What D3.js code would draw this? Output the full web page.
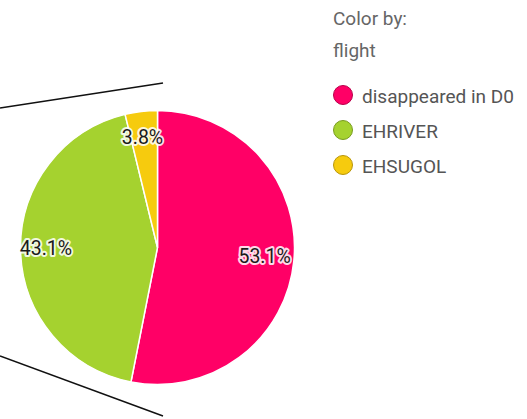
<!DOCTYPE html>
<html>
<head>
<meta charset="utf-8">
<script src="https://cdn.jsdelivr.net/npm/d3@7"></script>
<style>
  html, body { margin: 0; padding: 0; background: #fff; }
  svg { display: block; font-family: Roboto, "Noto Sans", sans-serif; }
</style>
</head>
<body>
<svg id="chart" width="527" height="419"></svg>
<script>
// Share of each flight category
const categories = ["disappeared in D0", "EHRIVER", "EHSUGOL"];
const shares = [53.1, 43.1, 3.8];
const colors = ["#ff0066", "#a5d22f", "#f6cb0e"];
const strokeColors = ["#b8004a", "#7a9c20", "#b8950a"];
const legendTitle = "Color by:";
const legendField = "flight";

const svg = d3.select("#chart");
const cx = 157.5, cy = 247.5, radius = 137;

// Connector lines from the parent chart
const connectors = [
  [[0, 108], [163, 83]],
  [[0, 356], [163, 416]]
];
svg.selectAll("line.connector")
  .data(connectors)
  .join("line")
  .attr("class", "connector")
  .attr("x1", d => d[0][0]).attr("y1", d => d[0][1])
  .attr("x2", d => d[1][0]).attr("y2", d => d[1][1])
  .attr("stroke", "#111")
  .attr("stroke-width", 1.5);

const data = categories.map((c, i) => ({ name: c, value: shares[i], color: colors[i] }));
const pie = d3.pie().value(d => d.value).sort(null);
const arcs = pie(data);
const arc = d3.arc().innerRadius(0).outerRadius(radius);
const labelArc = d3.arc().innerRadius(radius * 0.8).outerRadius(radius * 0.8);

const g = svg.append("g").attr("transform", `translate(${cx},${cy})`);
g.selectAll("path")
  .data(arcs)
  .join("path")
  .attr("d", arc)
  .attr("fill", d => d.data.color)
  .attr("stroke", "#fff")
  .attr("stroke-width", 1.5);

const labels = g.selectAll("g.label")
  .data(arcs)
  .join("g")
  .attr("class", "label")
  .attr("transform", d => {
    const [x, y] = labelArc.centroid(d);
    return `translate(${x - 2},${y - 2})`;
  });

labels.append("text")
  .attr("text-anchor", "middle")
  .attr("dy", "0.35em")
  .attr("font-size", 19.5)
  .attr("stroke", "#fff")
  .attr("stroke-width", 4)
  .attr("stroke-linejoin", "round")
  .attr("fill", "none")
  .attr("opacity", 0.85)
  .text(d => d.data.value.toFixed(1) + "%");
labels.append("text")
  .attr("text-anchor", "middle")
  .attr("dy", "0.35em")
  .attr("font-size", 19.5)
  .attr("fill", "#1a1a1a")
  .text(d => d.data.value.toFixed(1) + "%");

// Legend
const legend = svg.append("g").attr("transform", "translate(333,0)");
legend.append("text").attr("x", 0).attr("y", 25)
  .attr("font-size", 19).attr("fill", "#666").text(legendTitle);
legend.append("text").attr("x", 0).attr("y", 57)
  .attr("font-size", 19).attr("fill", "#666").text(legendField);

const items = legend.selectAll("g.item")
  .data(data)
  .join("g")
  .attr("class", "item")
  .attr("transform", (d, i) => `translate(0,${95 + i * 35})`);
items.append("circle")
  .attr("cx", 10).attr("cy", 0).attr("r", 9.5)
  .attr("fill", d => d.color)
  .attr("stroke", (d, i) => strokeColors[i])
  .attr("stroke-width", 1);
items.append("text")
  .attr("x", 29).attr("y", 1).attr("dy", "0.35em")
  .attr("font-size", 19).attr("fill", "#555")
  .text(d => d.name);
</script>
</body>
</html>
